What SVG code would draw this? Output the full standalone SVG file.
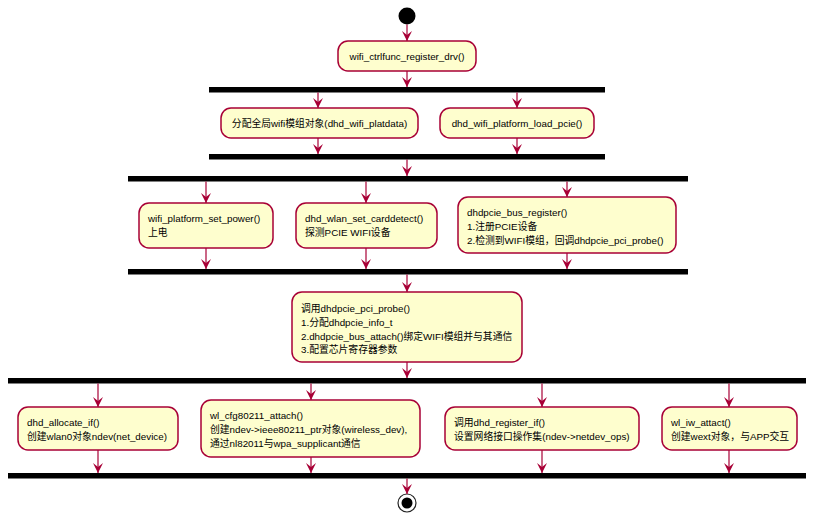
<svg xmlns="http://www.w3.org/2000/svg" width="820" height="526" viewBox="0 0 820 526">
<style>
.box{fill:#FEFECE;stroke:#A80036;stroke-width:1.5}
.bar{fill:#000000}
.t{font-family:"Liberation Sans","Noto Sans CJK SC",sans-serif;font-size:9.8px;fill:#000000}
.c{text-anchor:middle}
.edge{stroke:#A80036;stroke-width:1.2;fill:none;marker-end:url(#arr)}
</style>
<defs>
<marker id="arr" viewBox="0 0 10 10" refX="10" refY="5" markerWidth="10" markerHeight="10" markerUnits="userSpaceOnUse" orient="auto">
<polygon points="0,0 10,5 0,10 4,5" fill="#A80036"/>
</marker>
</defs>
<rect width="820" height="526" fill="#FFFFFF"/>

<g id="start"><circle cx="407" cy="16" r="8.5" fill="#000000"/></g>

<g id="n1"><rect class="box" x="338" y="41" width="138" height="30" rx="10"/>
<text class="t c" x="407" y="60">wifi_ctrlfunc_register_drv()</text></g>

<g id="fork1"><rect class="bar" x="209" y="87" width="396" height="5.5"/></g>

<g id="n2a"><rect class="box" x="221" y="108" width="197" height="30" rx="10"/>
<text class="t c" x="319.5" y="127">分配全局wifi模组对象(dhd_wifi_platdata)</text></g>
<g id="n2b"><rect class="box" x="440" y="108" width="154" height="30" rx="10"/>
<text class="t c" x="517" y="127">dhd_wifi_platform_load_pcie()</text></g>

<g id="join1"><rect class="bar" x="209" y="154" width="396" height="5.5"/></g>

<g id="fork2"><rect class="bar" x="128" y="176" width="560" height="5.5"/></g>

<g id="n3a"><rect class="box" x="139" y="203" width="134" height="45" rx="10"/>
<text class="t" x="148" y="222">wifi_platform_set_power()</text>
<text class="t" x="148" y="236">上电</text></g>
<g id="n3b"><rect class="box" x="296" y="203" width="141" height="45" rx="10"/>
<text class="t" x="305" y="222">dhd_wlan_set_carddetect()</text>
<text class="t" x="305" y="236">探测PCIE WIFI设备</text></g>
<g id="n3c"><rect class="box" x="458" y="197" width="218" height="56" rx="10"/>
<text class="t" x="467" y="216">dhdpcie_bus_register()</text>
<text class="t" x="467" y="230">1.注册PCIE设备</text>
<text class="t" x="467" y="244">2.检测到WIFI模组，回调dhdpcie_pci_probe()</text></g>

<g id="join2"><rect class="bar" x="128" y="269" width="560" height="5.5"/></g>

<g id="n4"><rect class="box" x="292" y="292" width="230" height="70" rx="10"/>
<text class="t" x="301" y="312">调用dhdpcie_pci_probe()</text>
<text class="t" x="301" y="326">1.分配dhdpcie_info_t</text>
<text class="t" x="301" y="339.5">2.dhdpcie_bus_attach()绑定WIFI模组并与其通信</text>
<text class="t" x="301" y="353">3.配置芯片寄存器参数</text></g>

<g id="fork3"><rect class="bar" x="8" y="378" width="798" height="5.5"/></g>

<g id="n5a"><rect class="box" x="18" y="407" width="160" height="43" rx="10"/>
<text class="t" x="27" y="425.5">dhd_allocate_if()</text>
<text class="t" x="27" y="439.5">创建wlan0对象ndev(net_device)</text></g>
<g id="n5b"><rect class="box" x="201" y="400" width="219" height="57" rx="10"/>
<text class="t" x="210" y="419">wl_cfg80211_attach()</text>
<text class="t" x="210" y="433">创建ndev-&gt;ieee80211_ptr对象(wireless_dev),</text>
<text class="t" x="210" y="447">通过nl82011与wpa_supplicant通信</text></g>
<g id="n5c"><rect class="box" x="445" y="407" width="194" height="43" rx="10"/>
<text class="t" x="454" y="425.5">调用dhd_register_if()</text>
<text class="t" x="454" y="439.5">设置网络接口操作集(ndev-&gt;netdev_ops)</text></g>
<g id="n5d"><rect class="box" x="662" y="407" width="135" height="43" rx="10"/>
<text class="t" x="671" y="425.5">wl_iw_attact()</text>
<text class="t" x="671" y="439.5">创建wext对象，与APP交互</text></g>

<g id="join3"><rect class="bar" x="8" y="473" width="798" height="5.5"/></g>

<g id="end"><circle cx="407" cy="503" r="9" fill="#FFFFFF" stroke="#222222" stroke-width="1.2"/><circle cx="407" cy="503" r="5.5" fill="#000000"/></g>

<g id="connectors">
<line class="edge" x1="407" y1="24.5" x2="407" y2="41"/>
<line class="edge" x1="407" y1="71" x2="407" y2="87"/>
<line class="edge" x1="318" y1="92.5" x2="318" y2="108"/>
<line class="edge" x1="517" y1="92.5" x2="517" y2="108"/>
<line class="edge" x1="318" y1="138" x2="318" y2="154"/>
<line class="edge" x1="517" y1="138" x2="517" y2="154"/>
<line class="edge" x1="407" y1="159.5" x2="407" y2="176"/>
<line class="edge" x1="206" y1="181.5" x2="206" y2="203"/>
<line class="edge" x1="366" y1="181.5" x2="366" y2="203"/>
<line class="edge" x1="567" y1="181.5" x2="567" y2="197"/>
<line class="edge" x1="206" y1="248" x2="206" y2="269"/>
<line class="edge" x1="366" y1="248" x2="366" y2="269"/>
<line class="edge" x1="567" y1="253" x2="567" y2="269"/>
<line class="edge" x1="407" y1="274.5" x2="407" y2="292"/>
<line class="edge" x1="407" y1="362" x2="407" y2="378"/>
<line class="edge" x1="98" y1="383.5" x2="98" y2="407"/>
<line class="edge" x1="311" y1="383.5" x2="311" y2="400"/>
<line class="edge" x1="542" y1="383.5" x2="542" y2="407"/>
<line class="edge" x1="729" y1="383.5" x2="729" y2="407"/>
<line class="edge" x1="98" y1="450" x2="98" y2="473"/>
<line class="edge" x1="311" y1="457" x2="311" y2="473"/>
<line class="edge" x1="542" y1="450" x2="542" y2="473"/>
<line class="edge" x1="729" y1="450" x2="729" y2="473"/>
<line class="edge" x1="407" y1="478.5" x2="407" y2="494"/>
</g>
</svg>
